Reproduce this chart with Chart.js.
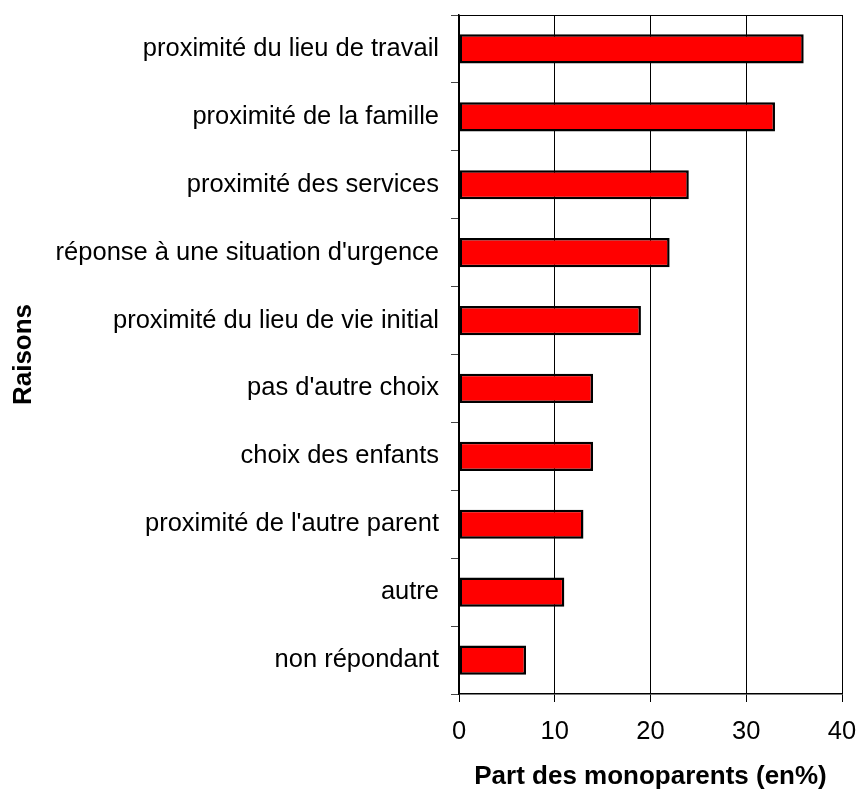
<!DOCTYPE html>
<html>
<head>
<meta charset="utf-8">
<script src="https://cdn.jsdelivr.net/npm/chart.js@4"></script>
<style>
  body { margin: 0; background: #fff; }
</style>
</head>
<body>
<canvas id="raisonsChart" width="858" height="792"></canvas>
<script>
// data
const categories = [
  'proximité du lieu de travail',
  'proximité de la famille',
  'proximité des services',
  "réponse à une situation d'urgence",
  'proximité du lieu de vie initial',
  "pas d'autre choix",
  'choix des enfants',
  "proximité de l'autre parent",
  'autre',
  'non répondant'
];
const shares = [36, 33, 24, 22, 19, 14, 14, 13, 11, 7];
const xTicks = [0, 10, 20, 30, 40];

const FONT = "'Liberation Sans', Arial, sans-serif";

// top frame line of the plot area
const frameTop = {
  id: 'frameTop',
  afterDraw(chart) {
    const { ctx, chartArea } = chart;
    ctx.save();
    ctx.strokeStyle = '#000';
    ctx.lineWidth = 1;
    ctx.beginPath();
    ctx.moveTo(chartArea.left, chartArea.top + 0.5);
    ctx.lineTo(chartArea.right, chartArea.top + 0.5);
    ctx.stroke();
    ctx.restore();
  }
};

new Chart(document.getElementById('raisonsChart').getContext('2d'), {
  type: 'bar',
  data: {
    labels: categories,
    datasets: [{
      label: 'Part des monoparents (en%)',
      data: shares,
      backgroundColor: '#ff0000',
      borderColor: '#000',
      borderWidth: 2.5,
      borderSkipped: false,
      categoryPercentage: 1,
      barPercentage: 0.43
    }]
  },
  options: {
    indexAxis: 'y',
    responsive: false,
    animation: false,
    layout: { padding: { top: 15, right: 16, left: 0, bottom: 0 } },
    plugins: { legend: { display: false }, tooltip: { enabled: false } },
    scales: {
      x: {
        min: 0,
        max: 40,
        afterBuildTicks: s => { s.ticks = xTicks.map(v => ({ value: v })); },
        afterFit: s => { s.height = 98; s.paddingLeft = 0; s.paddingRight = 0; },
        grid: { color: '#000', lineWidth: 1, tickLength: 8 },
        border: { color: '#000', width: 1.5 },
        ticks: { color: '#000', padding: 15, font: { family: FONT, size: 25.5 } },
        title: {
          display: true,
          text: 'Part des monoparents (en%)',
          color: '#000',
          padding: 0,
          font: { family: FONT, size: 26, weight: 'bold' }
        }
      },
      y: {
        afterFit: s => { s.width = 459; s.paddingTop = 0; s.paddingBottom = 0; },
        grid: { offset: true, drawOnChartArea: false, tickLength: 8, color: '#444' },
        border: { color: '#000', width: 1.5 },
        ticks: { color: '#000', padding: 12, font: { family: FONT, size: 25.5 } },
        title: {
          display: true,
          text: 'Raisons',
          color: '#000',
          padding: 8,
          font: { family: FONT, size: 26, weight: 'bold' }
        }
      }
    }
  },
  plugins: [frameTop]
});
</script>
</body>
</html>
